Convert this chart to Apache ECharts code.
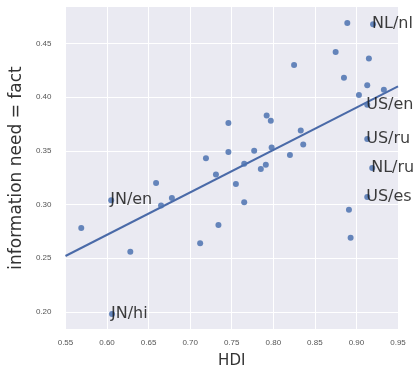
<!DOCTYPE html>
<html>
<head>
<meta charset="utf-8">
<script src="https://cdn.jsdelivr.net/npm/echarts@6/dist/echarts.min.js"></script>
<style>
html,body{margin:0;padding:0;background:#fff;}
#c{width:416px;height:374px;}
</style>
</head>
<body>
<div id="c"></div>
<script>
// HDI values (x)
var hdi = [0.569,0.605,0.659,0.665,0.678,0.628,0.606,0.712,0.734,0.719,0.731,0.746,0.746,0.755,0.765,0.765,0.777,0.785,0.791,0.792,0.797,0.798,0.833,0.836,0.820,0.825,0.875,0.889,0.920,0.915,0.885,0.913,0.933,0.903,0.913,0.913,0.919,0.913,0.891,0.893];
// information need = fact (y)
var infoNeed = [0.278,0.304,0.320,0.299,0.306,0.256,0.198,0.264,0.281,0.343,0.328,0.376,0.349,0.319,0.302,0.338,0.350,0.333,0.337,0.383,0.378,0.353,0.369,0.356,0.346,0.430,0.442,0.469,0.468,0.436,0.418,0.411,0.407,0.402,0.393,0.361,0.334,0.307,0.295,0.269];
// annotation text per point
var pointLabels = ['','JN/en','','','','','JN/hi','','','','','','','','','','','','','','','','','','','','','','NL/nl','','','','','','US/en','US/ru','NL/ru','US/es','',''];
// regression line
var fitX = [0.55, 0.95];
var fitY = [0.252, 0.410];
// tick labels
var xTicks = [0.55,0.60,0.65,0.70,0.75,0.80,0.85,0.90,0.95];
var yTicks = [0.20,0.25,0.30,0.35,0.40,0.45];

var blue = '#4C72B0';
var pts = hdi.map(function(x,i){ return {value:[x, infoNeed[i]], name: pointLabels[i]}; });
var fit = fitX.map(function(x,i){ return [x, fitY[i]]; });

var chart = echarts.init(document.getElementById('c'), null, {renderer:'canvas'});
chart.setOption({
  animation:false,
  grid:{left:65, top:7, right:18, bottom:41, show:true, backgroundColor:'#EAEAF2', borderWidth:0},
  xAxis:{
    type:'value', min:0.55, max:0.95,
    name:'HDI', nameLocation:'middle', nameGap:25,
    nameTextStyle:{fontFamily:'DejaVu Sans', fontSize:15, color:'#333'},
    axisLine:{show:false}, axisTick:{show:false, customValues:xTicks},
    axisLabel:{customValues:xTicks, fontFamily:'Liberation Sans', fontSize:8, color:'#555', margin:10,
      formatter:function(v){return (+v).toFixed(2);}},
    splitLine:{show:true, lineStyle:{color:'#fff', width:1}}
  },
  yAxis:{
    type:'value', min:0.184, max:0.484,
    name:'information need = fact', nameLocation:'middle', nameGap:36,
    nameTextStyle:{fontFamily:'DejaVu Sans', fontSize:17, color:'#333'},
    axisLine:{show:false}, axisTick:{show:false, customValues:yTicks},
    axisLabel:{customValues:yTicks, fontFamily:'Liberation Sans', fontSize:8, color:'#555', margin:14,
      formatter:function(v){return (+v).toFixed(2);}},
    splitLine:{show:true, lineStyle:{color:'#fff', width:1}}
  },
  series:[
    {
      type:'line', data:fit, showSymbol:false, symbol:'none',
      lineStyle:{color:'#4a6aa8', width:2}, z:3
    },
    {
      type:'scatter', data:pts, symbolSize:6,
      itemStyle:{color:blue, opacity:0.85},
      label:{show:true, position:'inside', align:'left', verticalAlign:'middle', offset:[-1,0],
        formatter:function(p){return p.name;}, fontFamily:'DejaVu Sans', fontSize:16, color:'#1a1a1a'},
      z:4
    }
  ]
});
</script>
</body>
</html>
